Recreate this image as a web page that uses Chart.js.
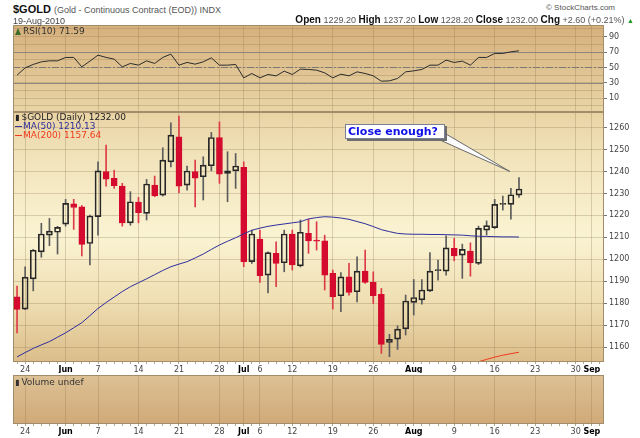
<!DOCTYPE html>
<html><head><meta charset="utf-8"><title>$GOLD</title>
<script src="https://cdn.jsdelivr.net/npm/chart.js@4.4.1/dist/chart.umd.min.js"></script>
<style>
html,body{margin:0;padding:0;background:#fff;}
#wrap{position:relative;width:640px;height:438px;overflow:hidden;background:#fff;}
canvas{position:absolute;left:0;display:block;}
.t{position:absolute;white-space:nowrap;line-height:1;}
.h{font-family:"Liberation Sans",Arial,sans-serif;}
.d{font-family:"DejaVu Sans",Verdana,sans-serif;font-size:9px;}
.ln{display:inline-block;width:7px;height:1px;vertical-align:middle;margin-right:1px;}
</style></head><body>
<div id="wrap">
<canvas id="cRsi" width="640" height="87" style="top:25px;width:640px;height:87px"></canvas>
<canvas id="cPrice" width="640" height="261" style="top:112px;width:640px;height:261px"></canvas>
<canvas id="cVol" width="640" height="65" style="top:373px;width:640px;height:65px"></canvas>

<div class="t h" style="left:13px;top:4px;font-size:11px;font-weight:bold;color:#111">$GOLD <span style="font-size:9px;font-weight:normal;color:#555">(Gold - Continuous Contract (EOD)) INDX</span></div>
<div class="t h" style="left:546px;top:4px;font-size:8px;color:#555">© StockCharts.com</div>
<div class="t h" id="dateTxt" style="left:13px;top:17px;font-size:9px;color:#444"></div>
<div class="t h" id="ohlcTxt" style="right:6px;top:15px;font-size:9px;color:#555"></div>

<div class="t d" id="rsiLeg" style="left:15px;top:27px;color:#333"></div>
<div class="t d" id="pxLeg" style="left:15px;top:113px;color:#222"></div>
<div class="t d" id="ma50Leg" style="left:15px;top:122px;color:#2e2e9e"></div>
<div class="t d" id="ma200Leg" style="left:15px;top:131px;color:#f03a20"></div>
<div class="t d" id="volLeg" style="left:15px;top:378px;color:#333"></div>
</div>
<script>
// ---------------- data ----------------
const holidays = ['2010-05-31', '2010-07-05'];
const firstDay = '2010-05-21';
const lastAxisDay = '2010-09-02';

const open  = [1182.9,1177.3,1191.1,1203.4,1211.0,1212.3,1216.0,1225.3,1223.9,1207.2,
               1219.4,1239.9,1236.9,1233.3,1216.6,1226.1,1220.9,1233.8,1229.2,1244.4,
               1255.8,1233.8,1239.9,1237.6,1242.6,1255.4,1239.1,1240.3,1241.9,1198.9,
               1209.2,1192.8,1202.7,1198.4,1211.5,1197.0,1211.8,1208.5,1208.4,1193.6,
               1183.4,1192.0,1185.2,1194.6,1189.5,1184.0,1162.1,1163.6,1168.3,1180.4,
               1181.5,1185.6,1194.8,1194.6,1205.0,1201.9,1203.7,1198.1,1213.3,1214.4,
               1225.0,1225.0,1229.2];
const high  = [1187.8,1196.6,1204.5,1216.4,1218.6,1215.0,1227.3,1227.3,1224.5,1220.1,
               1244.4,1252.0,1240.6,1234.6,1230.8,1228.2,1236.4,1237.9,1250.8,1262.2,
               1265.2,1242.5,1245.2,1246.7,1257.8,1262.6,1249.0,1248.2,1244.4,1213.3,
               1213.3,1203.4,1208.0,1213.3,1213.3,1217.9,1218.2,1217.1,1211.0,1195.1,
               1193.9,1198.1,1201.1,1204.2,1194.3,1186.7,1165.8,1169.7,1183.7,1190.8,
               1190.8,1203.0,1199.6,1210.7,1209.5,1206.9,1207.5,1215.1,1217.5,1227.3,
               1228.8,1232.3,1237.2];
const low   = [1166.5,1177.0,1185.6,1200.9,1206.2,1202.4,1215.1,1213.6,1201.5,1197.4,
               1211.0,1233.3,1232.3,1215.1,1215.5,1216.6,1217.9,1228.5,1228.8,1242.1,
               1230.3,1231.5,1223.9,1227.0,1240.3,1234.6,1226.2,1232.3,1196.6,1198.1,
               1189.5,1184.7,1187.5,1194.3,1195.1,1196.5,1202.7,1204.2,1186.0,1177.3,
               1176.1,1183.7,1180.6,1189.0,1179.9,1157.1,1155.6,1158.9,1165.5,1174.6,
               1179.6,1185.2,1190.5,1192.8,1199.3,1191.3,1192.3,1197.6,1211.0,1214.0,
               1222.4,1218.3,1228.2];
const close = [1177.2,1191.8,1204.1,1211.5,1212.8,1214.5,1225.5,1223.6,1206.8,1219.7,
               1240.3,1236.5,1233.5,1216.6,1226.2,1221.2,1234.3,1228.9,1245.2,1256.6,
               1233.3,1240.2,1236.9,1242.9,1255.5,1238.8,1240.3,1242.5,1198.9,1211.5,
               1192.5,1203.0,1198.1,1211.5,1197.4,1212.3,1208.4,1208.3,1192.8,1182.9,
               1192.0,1184.9,1194.6,1189.5,1183.4,1161.2,1163.5,1168.2,1181.0,1182.6,
               1186.0,1194.6,1195.0,1205.2,1201.5,1204.5,1198.4,1214.1,1215.3,1225.0,
               1225.4,1229.4,1232.0];
const ma50  = [1155.5,1157.5,1159.4,1161.0,1162.5,1164.5,1166.5,1168.8,1171.1,1174.3,
               1177.6,1180.3,1182.8,1185.3,1187.5,1189.3,1191.1,1193.0,1194.9,1196.6,
               1197.8,1198.9,1200.6,1202.4,1204.5,1206.5,1208.2,1209.8,1211.6,1213.2,
               1214.2,1215.0,1215.6,1216.1,1216.6,1217.1,1218.4,1219.0,1219.4,1219.2,
               1218.8,1218.2,1217.2,1216.2,1214.9,1213.5,1212.6,1211.8,1211.5,1211.4,
               1211.4,1211.3,1211.3,1211.2,1211.1,1211.0,1210.7,1210.5,1210.4,1210.3,
               1210.2,1210.2,1210.13];
const ma200 = [null,null,null,null,null,null,null,null,null,null,
               null,null,null,null,null,null,null,null,null,null,
               null,null,null,null,null,null,null,null,null,null,
               null,null,null,null,null,null,null,null,null,null,
               null,null,null,null,null,null,null,null,null,null,
               null,null,null,null,null,1151.2,1152.2,1153.3,1154.4,1155.4,
               1156.3,1157.0,1157.64];
const rsi10 = [40.0,49.5,53.9,57.3,58.6,58.6,63.0,63.0,50.8,58.2,
               66.0,63.0,60.8,50.8,55.2,53.0,58.6,55.2,63.0,67.3,
               53.0,56.5,54.3,57.3,62.5,53.0,53.0,53.9,36.5,42.2,
               36.5,40.9,39.1,45.2,40.9,47.8,47.4,46.5,43.0,36.5,
               41.3,39.1,44.3,42.2,39.1,32.2,32.6,35.7,44.3,45.6,
               47.4,53.0,53.0,59.5,56.5,58.2,53.0,63.0,63.0,68.2,
               68.2,70.3,71.59];

const tickDates = ['2010-05-24','2010-06-01','2010-06-07','2010-06-14','2010-06-21','2010-06-28',
                   '2010-07-01','2010-07-06','2010-07-12','2010-07-19','2010-07-26','2010-08-02',
                   '2010-08-09','2010-08-16','2010-08-23','2010-08-30','2010-09-01'];
const tickTexts = ['24','Jun','7','14','21','28','Jul','6','12','19','26','Aug','9','16','23','30','Sep'];
const monthTexts = ['Jun','Jul','Aug','Sep'];
const priceTicks = [1160,1170,1180,1190,1200,1210,1220,1230,1240,1250,1260];
const priceRange = [1153.2, 1267.1];
const rsiGrid = [0,10,20,30,40,50,60,70,80,90,100];
const rsiTicks = [10,30,50,70,90];
const rsiLevels = [30,50,70];
const rsiRange = [-7.8, 105.1];
const note = {text:'Close enough?', atIndex:61, atValue:1240};

// ---------------- categories ----------------
function buildDays(){
  const out = [];
  const d = new Date(firstDay + 'T00:00:00Z');
  const end = new Date(lastAxisDay + 'T00:00:00Z');
  while (d <= end){
    const wd = d.getUTCDay();
    const s = d.toISOString().slice(0,10);
    if (wd !== 0 && wd !== 6 && !holidays.includes(s)) out.push(s);
    d.setUTCDate(d.getUTCDate()+1);
  }
  return out;
}
const days = buildDays();
const labelAt = i => { const k = tickDates.indexOf(days[i]); return k < 0 ? '' : tickTexts[k]; };

// ---------------- styles ----------------
const GRID = 'rgba(140,112,76,0.28)';
const BORDER = '#a38c6a';
const RED = '#d40a2e', RED_WICK = '#de3b48', UP_LINE = '#262626', UP_WICK = '#5c5c5c';
const FONT = '"DejaVu Sans", Verdana, sans-serif';
Chart.defaults.font.family = FONT;
Chart.defaults.animation = false;

const noPad = s => { s.paddingTop = 0; s.paddingBottom = 0; s.paddingLeft = 0; s.paddingRight = 0; };

function panelPlugin(stops){
  return {
    id:'panel',
    beforeDraw(chart){
      const {ctx, chartArea:a} = chart;
      const g = ctx.createLinearGradient(0, a.top, 0, a.bottom);
      stops.forEach(s => g.addColorStop(s[0], s[1]));
      ctx.save(); ctx.fillStyle = g;
      ctx.fillRect(a.left, a.top, a.right - a.left, a.bottom - a.top);
      ctx.restore();
    },
    afterDraw(chart){
      const {ctx, chartArea:a} = chart;
      ctx.save(); ctx.strokeStyle = BORDER; ctx.lineWidth = 1;
      ctx.strokeRect(Math.round(a.left)+0.5, Math.round(a.top)+0.5, Math.round(a.right-a.left)-1, Math.round(a.bottom-a.top)-1);
      ctx.restore();
    }
  };
}

function xAxis(showLabels, h){
  return {
    type:'category', offset:true,
    grid:{offset:false, drawOnChartArea:true, drawTicks:showLabels, tickLength:2,
          color: c => labelAt(c.index) ? GRID : 'rgba(0,0,0,0)',
          tickColor:'#b4a68e', lineWidth:1},
    border:{display:false},
    ticks:{display:showLabels, autoSkip:false, maxRotation:0, minRotation:0, padding:1,
           callback:(v,i) => labelAt(i),
           color: c => monthTexts.includes(labelAt(c.index)) ? '#000' : '#444',
           font: c => ({family:FONT, size:8, weight: monthTexts.includes(labelAt(c.index)) ? 'bold' : 'normal'})},
    afterFit: s => { s.height = h; noPad(s); }
  };
}

// ---------------- RSI panel ----------------
const rsiLines = {
  id:'rsiLines',
  beforeDatasetsDraw(chart){
    const {ctx, chartArea:a, scales:{y}} = chart;
    ctx.save(); ctx.lineWidth = 1;
    rsiLevels.forEach(v => {
      const py = Math.round(y.getPixelForValue(v)) + 0.5;
      ctx.strokeStyle = v === 50 ? '#7d7a74' : '#8c877d';
      ctx.setLineDash(v === 50 ? [7,2,2,2] : []);
      ctx.beginPath(); ctx.moveTo(a.left, py); ctx.lineTo(a.right, py); ctx.stroke();
    });
    ctx.restore();
  }
};
new Chart(document.getElementById('cRsi'), {
  type:'line',
  data:{labels:days, datasets:[{data:rsi10, borderColor:'#2b2b2b', borderWidth:1, pointRadius:0, tension:0}]},
  options:{
    responsive:false, maintainAspectRatio:false,
    layout:{padding:{left:13, right:0, top:0, bottom:0}},
    plugins:{legend:{display:false}, tooltip:{enabled:false}},
    scales:{
      x: xAxis(false, 0),
      y:{position:'right', min:rsiRange[0], max:rsiRange[1],
         afterBuildTicks: s => { s.ticks = rsiGrid.map(v => ({value:v})); },
         grid:{color:GRID, tickColor: c => rsiTicks.includes(c.tick && c.tick.value) ? '#777' : 'rgba(0,0,0,0)', tickLength:3},
         border:{display:false},
         ticks:{autoSkip:false, padding:2, color:'#444', font:{family:FONT, size:8},
                callback: v => rsiTicks.includes(v) ? String(v) : ''},
         afterFit: s => { s.width = 36; noPad(s); }}
    }
  },
  plugins:[panelPlugin([[0,'#d6b07c'],[1,'#e9d5a7']]), rsiLines]
});

// ---------------- price panel ----------------
const isDown = i => close[i] < open[i];
const body  = open.map((o,i) => [o, close[i]]);
const upper = open.map((o,i) => [Math.max(o, close[i]), high[i]]);
const lower = open.map((o,i) => [low[i], Math.min(o, close[i])]);

const notePlugin = {
  id:'note',
  afterDatasetsDraw(chart){
    const {ctx, scales:{x,y}} = chart;
    const tx = x.getPixelForValue(note.atIndex) - 1, ty = y.getPixelForValue(note.atValue);
    ctx.save();
    ctx.font = 'bold 11px ' + FONT;
    const w = Math.round(ctx.measureText(note.text).width + 10), h = 15;
    const bx2 = Math.round(tx - 65), by2 = Math.round(ty - 32);
    const bx1 = bx2 - w, by1 = by2 - h;
    // pointer
    ctx.beginPath(); ctx.moveTo(bx2 - 5, by2 + 1); ctx.lineTo(bx2 + 1, by2 - 5); ctx.lineTo(tx, ty); ctx.closePath();
    ctx.fillStyle = '#fbfbfb'; ctx.fill(); ctx.strokeStyle = '#6a6a6a'; ctx.lineWidth = 1; ctx.stroke();
    // shadow + box
    ctx.fillStyle = '#6d6d6d'; ctx.fillRect(bx1 + 2, by1 + 2, w, h);
    ctx.fillStyle = '#ffffff'; ctx.fillRect(bx1, by1, w, h);
    ctx.strokeStyle = '#7a7f96'; ctx.strokeRect(bx1 + 0.5, by1 + 0.5, w - 1, h - 1);
    ctx.fillStyle = '#1010e8'; ctx.textBaseline = 'middle'; ctx.textAlign = 'left';
    ctx.fillText(note.text, bx1 + 3, by1 + h/2 + 0.5);
    ctx.restore();
  }
};

new Chart(document.getElementById('cPrice'), {
  type:'bar',
  data:{labels:days, datasets:[
    {type:'line', data:ma50, borderColor:'#2e2e9e', borderWidth:1, pointRadius:0, tension:0, order:0},
    {type:'line', data:ma200, borderColor:'#f03a20', borderWidth:1, pointRadius:0, tension:0, order:0, spanGaps:false},
    {data:upper, grouped:false, barThickness:1, order:2, borderWidth:0,
     backgroundColor: c => isDown(c.dataIndex) ? RED_WICK : UP_WICK},
    {data:lower, grouped:false, barThickness:1, order:2, borderWidth:0,
     backgroundColor: c => isDown(c.dataIndex) ? RED_WICK : UP_WICK},
    {data:body, grouped:false, barThickness:6, order:1, borderWidth:1, borderSkipped:false, minBarLength:1,
     backgroundColor: c => isDown(c.dataIndex) ? RED : 'rgba(255,255,255,0)',
     borderColor: c => isDown(c.dataIndex) ? RED : UP_LINE}
  ]},
  options:{
    responsive:false, maintainAspectRatio:false,
    layout:{padding:{left:13, right:0, top:0, bottom:0}},
    plugins:{legend:{display:false}, tooltip:{enabled:false}},
    scales:{
      x: xAxis(true, 11),
      y:{position:'right', min:priceRange[0], max:priceRange[1],
         afterBuildTicks: s => { s.ticks = priceTicks.map(v => ({value:v})); },
         grid:{color:GRID, tickColor:'#777', tickLength:3},
         border:{display:false},
         ticks:{autoSkip:false, padding:2, color:'#444', font:{family:FONT, size:8}, callback: v => String(v)},
         afterFit: s => { s.width = 36; noPad(s); }}
    }
  },
  plugins:[panelPlugin([[0,'#e9d3a4'],[0.2,'#f2e5bd'],[0.5,'#faf3d2'],[0.75,'#efdfb3'],[1,'#dbbd8a']]), notePlugin]
});

// ---------------- volume panel ----------------
new Chart(document.getElementById('cVol'), {
  type:'line',
  data:{labels:days, datasets:[{data:[], borderWidth:0, pointRadius:0}]},
  options:{
    responsive:false, maintainAspectRatio:false,
    layout:{padding:{left:13, right:36, top:2, bottom:0}},
    plugins:{legend:{display:false}, tooltip:{enabled:false}},
    scales:{ x: xAxis(true, 14), y:{display:false, min:0, max:1} }
  },
  plugins:[panelPlugin([[0,'#ddc195'],[1,'#d0a978']])]
});

// ---------------- text ----------------
const n = close.length - 1;
const chg = close[n] - close[n-1];
const pct = chg / close[n-1] * 100;
const sgn = v => (v >= 0 ? '+' : '') + v.toFixed(2);
const B = s => '<b style="font-size:10px;color:#111">' + s + '</b>';
document.getElementById('dateTxt').textContent = '19-Aug-2010';
document.getElementById('ohlcTxt').innerHTML =
  B('Open') + ' ' + open[n].toFixed(2) + ' ' + B('High') + ' ' + high[n].toFixed(2) + ' ' +
  B('Low') + ' ' + low[n].toFixed(2) + ' ' + B('Close') + ' ' + close[n].toFixed(2) + ' ' +
  B('Chg') + ' ' + sgn(chg) + ' (' + sgn(pct) + '%) <span style="color:#1a9a1a;font-size:7px">▲</span>';
const icon = c => '<span style="display:inline-block;width:0;height:0;border-left:3px solid transparent;border-right:3px solid transparent;border-bottom:7px solid ' + c + ';margin-right:2px;vertical-align:-1px"></span>';
document.getElementById('rsiLeg').innerHTML = icon('#3d6b2a') + 'RSI(10) ' + rsi10[n].toFixed(2);
document.getElementById('pxLeg').innerHTML = '<span style="font-size:8px;margin-right:2px">▮</span>$GOLD (Daily) ' + close[n].toFixed(2);
document.getElementById('ma50Leg').innerHTML = '<span class="ln" style="background:#2e2e9e"></span>MA(50) ' + ma50[n].toFixed(2);
document.getElementById('ma200Leg').innerHTML = '<span class="ln" style="background:#f03a20"></span>MA(200) ' + ma200[n].toFixed(2);
document.getElementById('volLeg').innerHTML = '<span style="font-size:8px;margin-right:2px">▮</span>Volume undef';
</script>
</body></html>
